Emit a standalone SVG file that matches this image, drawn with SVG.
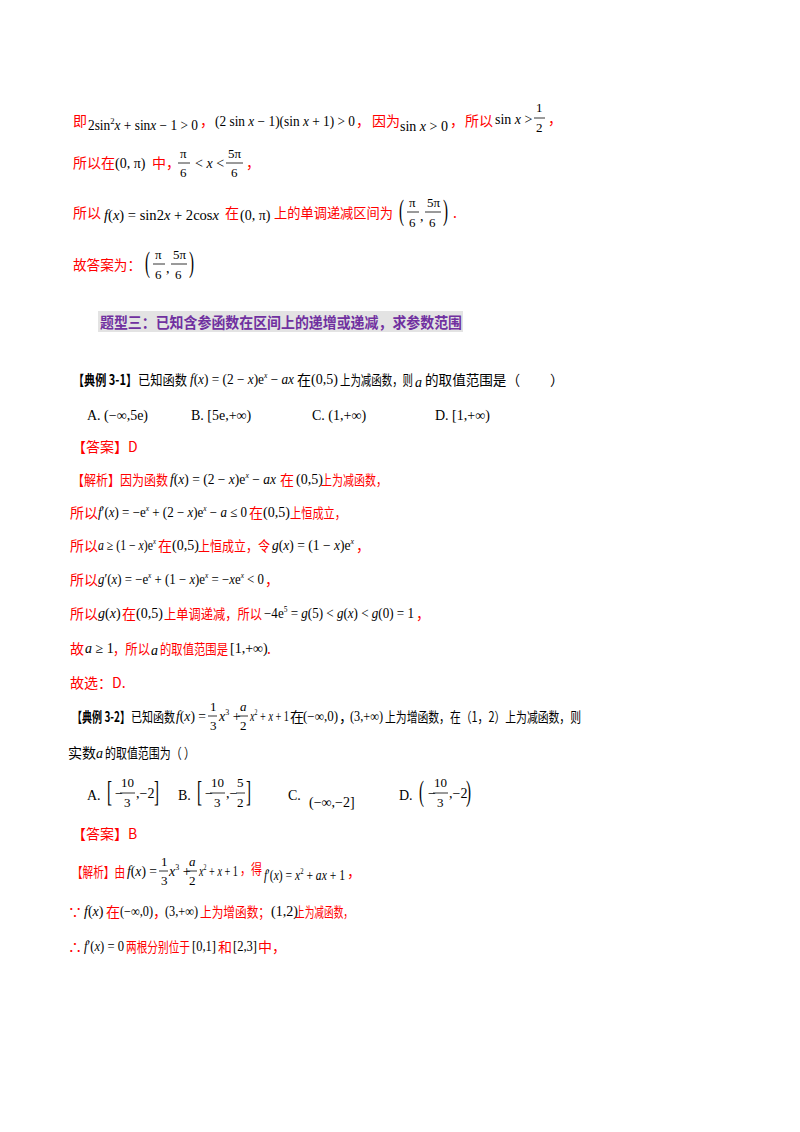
<svg xmlns="http://www.w3.org/2000/svg" width="800" height="1132" viewBox="0 0 800 1132">
<style>
text{font-family:"Liberation Serif","Noto Sans CJK SC",serif;font-size:14px;fill:#000}
.r{fill:#ff0000;font-family:"Noto Sans CJK SC",sans-serif}
.k{font-family:"Noto Sans CJK SC",sans-serif}
.b{font-weight:bold}
.i{font-style:italic}
.m{font-family:"Liberation Serif",serif}
.f{font-size:13px}
.p{font-family:"Liberation Serif",serif;font-size:15px}
line{stroke:#000;stroke-width:0.8}
.h{font-family:"Noto Sans CJK SC",sans-serif;font-weight:bold;font-size:15px;fill:#7030a0}
</style>
<rect width="800" height="1132" fill="#fff"/>
<g id="part1">
<text x="73" y="126" class="r">即</text>
<text x="88" y="130" class="m" textLength="110" lengthAdjust="spacingAndGlyphs">2sin<tspan font-size="9" dy="-6">2</tspan><tspan dy="6" class="i">x</tspan> + sin<tspan class="i">x</tspan> − 1 &gt; 0</text>
<text x="200" y="126" class="r">，</text>
<text x="215" y="126" class="m" textLength="140" lengthAdjust="spacingAndGlyphs">(2 sin <tspan class="i">x</tspan> − 1)(sin <tspan class="i">x</tspan> + 1) &gt; 0</text>
<text x="356" y="126" class="r">，</text>
<text x="372" y="126" class="r">因为</text>
<text x="400" y="131" class="m" textLength="48" lengthAdjust="spacingAndGlyphs">sin <tspan class="i">x</tspan> &gt; 0</text>
<text x="450" y="126" class="r">，</text>
<text x="465" y="126" class="r">所以</text>
<text x="495" y="124" class="m">sin <tspan class="i">x</tspan> &gt;</text>
<text x="536" y="112" class="m f">1</text><line x1="534" y1="118" x2="545" y2="118"/><text x="536" y="132" class="m f">2</text>
<text x="548" y="124" class="r">，</text>
<text x="73" y="168" class="r" textLength="42" lengthAdjust="spacingAndGlyphs">所以在</text>
<text x="115" y="168" class="m">(0, π)</text>
<text x="152" y="168" class="r">中，</text>
<text x="180" y="158" class="m f">π</text><line x1="178" y1="163" x2="190" y2="163"/><text x="180" y="177" class="m f">6</text>
<text x="195" y="168" class="m">&lt; <tspan class="i">x</tspan> &lt;</text>
<text x="228" y="158" class="m f">5π</text><line x1="226" y1="163" x2="243" y2="163"/><text x="231" y="177" class="m f">6</text>
<text x="246" y="168" class="r">，</text>
<text x="73" y="218" class="r">所以</text>
<text x="104" y="220" class="m" textLength="115" lengthAdjust="spacingAndGlyphs"><tspan class="i">f</tspan>(<tspan class="i">x</tspan>) = sin2<tspan class="i">x</tspan> + 2cos<tspan class="i">x</tspan></text>
<text x="225" y="218" class="r">在</text>
<text x="240" y="220" class="m">(0, π)</text>
<text x="274" y="218" class="r" textLength="119" lengthAdjust="spacingAndGlyphs">上的单调递减区间为</text>
<text class="p" transform="translate(399,219.5) scale(1,1.9)">(</text>
<text x="409" y="207" class="m f">π</text><line x1="407" y1="212" x2="419" y2="212"/><text x="409" y="227" class="m f">6</text>
<text x="420" y="221" class="m">,</text>
<text x="427" y="207" class="m f">5π</text><line x1="425" y1="212" x2="441" y2="212"/><text x="429" y="227" class="m f">6</text>
<text class="p" transform="translate(443,219.5) scale(1,1.9)">)</text>
<text x="453" y="218" class="r">.</text>
<text x="73" y="270" class="r" textLength="68" lengthAdjust="spacingAndGlyphs">故答案为：</text>
<text class="p" transform="translate(145,271.5) scale(1,1.9)">(</text>
<text x="155" y="259" class="m f">π</text><line x1="153" y1="264" x2="165" y2="264"/><text x="155" y="279" class="m f">6</text>
<text x="166" y="273" class="m">,</text>
<text x="173" y="259" class="m f">5π</text><line x1="171" y1="264" x2="187" y2="264"/><text x="175" y="279" class="m f">6</text>
<text class="p" transform="translate(189,271.5) scale(1,1.9)">)</text>
</g>
<g id="heading">
<rect x="98" y="311" width="365" height="21" fill="#e3e3e3"/>
<text x="100" y="328" class="h" textLength="362" lengthAdjust="spacingAndGlyphs">题型三：已知含参函数在区间上的递增或递减，求参数范围</text>
</g>
<g id="ex31">
<text x="73" y="385" class="k b" textLength="64" lengthAdjust="spacingAndGlyphs">【典例 3-1】</text>
<text x="138" y="385" class="k" textLength="49" lengthAdjust="spacingAndGlyphs">已知函数</text>
<text x="190" y="384" class="m" textLength="104" lengthAdjust="spacingAndGlyphs"><tspan class="i">f</tspan>(<tspan class="i">x</tspan>) = (2 − <tspan class="i">x</tspan>)e<tspan font-size="8" dy="-6" class="i">x</tspan><tspan dy="6"> − </tspan><tspan class="i">ax</tspan></text>
<text x="297" y="385" class="k">在</text>
<text x="311" y="384" class="m">(0,5)</text>
<text x="340" y="385" class="k" textLength="73" lengthAdjust="spacingAndGlyphs">上为减函数，则</text>
<text x="415" y="387" class="m i">a</text>
<text x="425" y="385" class="k" textLength="95" lengthAdjust="spacingAndGlyphs">的取值范围是（</text>
<text x="550" y="385" class="k">）</text>
<text x="87" y="420" class="m">A.  (−∞,5e)</text>
<text x="191" y="420" class="m">B.  [5e,+∞)</text>
<text x="312" y="420" class="m">C.  (1,+∞)</text>
<text x="435" y="420" class="m">D.  [1,+∞)</text>
<text x="72" y="452" class="r">【答案】D</text>
<text x="72" y="485" class="r" textLength="96" lengthAdjust="spacingAndGlyphs">【解析】因为函数</text>
<text x="170" y="484" class="m" textLength="106" lengthAdjust="spacingAndGlyphs"><tspan class="i">f</tspan>(<tspan class="i">x</tspan>) = (2 − <tspan class="i">x</tspan>)e<tspan font-size="8" dy="-6" class="i">x</tspan><tspan dy="6"> − </tspan><tspan class="i">ax</tspan></text>
<text x="280" y="485" class="r">在</text>
<text x="296" y="484" class="m">(0,5)</text>
<text x="321" y="485" class="r" textLength="66" lengthAdjust="spacingAndGlyphs">上为减函数，</text>
<text x="70" y="518" class="r">所以</text>
<text x="98" y="517" class="m" textLength="149" lengthAdjust="spacingAndGlyphs"><tspan class="i">f</tspan>′(<tspan class="i">x</tspan>) = −e<tspan font-size="8" dy="-6" class="i">x</tspan><tspan dy="6"> + (2 − </tspan><tspan class="i">x</tspan>)e<tspan font-size="8" dy="-6" class="i">x</tspan><tspan dy="6"> − </tspan><tspan class="i">a</tspan> ≤ 0</text>
<text x="249" y="518" class="r">在</text>
<text x="263" y="517" class="m">(0,5)</text>
<text x="290" y="518" class="r" textLength="56" lengthAdjust="spacingAndGlyphs">上恒成立，</text>
<text x="70" y="551" class="r">所以</text>
<text x="98" y="550" class="m" textLength="58" lengthAdjust="spacingAndGlyphs"><tspan class="i">a</tspan> ≥ (1 − <tspan class="i">x</tspan>)e<tspan font-size="8" dy="-6" class="i">x</tspan></text>
<text x="158" y="551" class="r">在</text>
<text x="172" y="550" class="m">(0,5)</text>
<text x="198" y="551" class="r" textLength="72" lengthAdjust="spacingAndGlyphs">上恒成立，令</text>
<text x="272" y="550" class="m" textLength="82" lengthAdjust="spacingAndGlyphs"><tspan class="i">g</tspan>(<tspan class="i">x</tspan>) = (1 − <tspan class="i">x</tspan>)e<tspan font-size="8" dy="-6" class="i">x</tspan></text>
<text x="356" y="551" class="r">，</text>
<text x="70" y="585" class="r">所以</text>
<text x="98" y="584" class="m" textLength="166" lengthAdjust="spacingAndGlyphs"><tspan class="i">g</tspan>′(<tspan class="i">x</tspan>) = −e<tspan font-size="8" dy="-6" class="i">x</tspan><tspan dy="6"> + (1 − </tspan><tspan class="i">x</tspan>)e<tspan font-size="8" dy="-6" class="i">x</tspan><tspan dy="6"> = −</tspan><tspan class="i">x</tspan>e<tspan font-size="8" dy="-6" class="i">x</tspan><tspan dy="6"> &lt; 0</tspan></text>
<text x="265" y="585" class="r">，</text>
<text x="70" y="619" class="r">所以</text>
<text x="98" y="618" class="m"><tspan class="i">g</tspan>(<tspan class="i">x</tspan>)</text>
<text x="122" y="619" class="r">在</text>
<text x="136" y="618" class="m">(0,5)</text>
<text x="164" y="619" class="r" textLength="98" lengthAdjust="spacingAndGlyphs">上单调递减，所以</text>
<text x="264" y="618" class="m" textLength="150" lengthAdjust="spacingAndGlyphs">−4e<tspan font-size="8" dy="-6">5</tspan><tspan dy="6"> = </tspan><tspan class="i">g</tspan>(5) &lt; <tspan class="i">g</tspan>(<tspan class="i">x</tspan>) &lt; <tspan class="i">g</tspan>(0) = 1</text>
<text x="416" y="619" class="r">，</text>
<text x="70" y="654" class="r">故</text>
<text x="85" y="653" class="m"><tspan class="i">a</tspan> ≥ 1</text>
<text x="113" y="654" class="r" textLength="37" lengthAdjust="spacingAndGlyphs">，所以</text>
<text x="151" y="655" class="m i">a</text>
<text x="160" y="654" class="r" textLength="68" lengthAdjust="spacingAndGlyphs">的取值范围是</text>
<text x="230" y="653" class="m">[1,+∞)</text>
<text x="267" y="654" class="r">.</text>
<text x="70" y="688" class="r">故选：D.</text>
</g>
<g id="ex32">
<text x="72" y="722" class="k b" textLength="58" lengthAdjust="spacingAndGlyphs">【典例 3-2】</text>
<text x="131" y="722" class="k" textLength="44" lengthAdjust="spacingAndGlyphs">已知函数</text>
<text x="176" y="721" class="m" textLength="30" lengthAdjust="spacingAndGlyphs"><tspan class="i">f</tspan>(<tspan class="i">x</tspan>) =</text>
<text x="210" y="711" class="m f">1</text><line x1="208" y1="716" x2="217" y2="716"/><text x="210" y="730" class="m f">3</text>
<text x="219" y="721" class="m"><tspan class="i">x</tspan><tspan font-size="8" dy="-6">3</tspan><tspan dy="6"> +</tspan></text>
<text x="240" y="711" class="m f i">a</text><line x1="238" y1="716" x2="248" y2="716"/><text x="240" y="730" class="m f">2</text>
<text x="250" y="721" class="m" textLength="39" lengthAdjust="spacingAndGlyphs"><tspan class="i">x</tspan><tspan font-size="8" dy="-6">2</tspan><tspan dy="6"> + </tspan><tspan class="i">x</tspan> + 1</text>
<text x="290" y="722" class="k">在</text>
<text x="303" y="721" class="m" textLength="35" lengthAdjust="spacingAndGlyphs">(−∞,0)</text>
<text x="339" y="722" class="k">，</text>
<text x="350" y="721" class="m" textLength="33" lengthAdjust="spacingAndGlyphs">(3,+∞)</text>
<text x="385" y="722" class="k" textLength="196" lengthAdjust="spacingAndGlyphs">上为增函数，在（1，2）上为减函数，则</text>
<text x="68" y="758" class="k">实数</text>
<text x="96" y="758" class="m i">a</text>
<text x="105" y="758" class="k" textLength="90" lengthAdjust="spacingAndGlyphs">的取值范围为（   ）</text>
<text x="87" y="800" class="m">A.</text>
<text class="p" transform="translate(107,800.5) scale(1,1.9)">[</text>
<text x="115" y="798" class="m">−</text>
<text x="121" y="787" class="m f">10</text><line x1="120" y1="793" x2="135" y2="793"/><text x="124" y="807" class="m f">3</text>
<text x="136" y="798" class="m">,−2</text>
<text class="p" transform="translate(154,800.5) scale(1,1.9)">]</text>
<text x="178" y="800" class="m">B.</text>
<text class="p" transform="translate(197,800.5) scale(1,1.9)">[</text>
<text x="205" y="798" class="m">−</text>
<text x="211" y="787" class="m f">10</text><line x1="210" y1="793" x2="225" y2="793"/><text x="214" y="807" class="m f">3</text>
<text x="226" y="798" class="m">,−</text>
<text x="237" y="787" class="m f">5</text><line x1="236" y1="793" x2="245" y2="793"/><text x="237" y="807" class="m f">2</text>
<text class="p" transform="translate(246,800.5) scale(1,1.9)">]</text>
<text x="288" y="800" class="m">C.</text>
<text x="309" y="807" class="m">(−∞,−2]</text>
<text x="399" y="800" class="m">D.</text>
<text class="p" transform="translate(419,800.5) scale(1,1.9)">(</text>
<text x="428" y="798" class="m">−</text>
<text x="434" y="787" class="m f">10</text><line x1="433" y1="793" x2="448" y2="793"/><text x="437" y="807" class="m f">3</text>
<text x="449" y="798" class="m">,−2</text>
<text class="p" transform="translate(466,800.5) scale(1,1.9)">)</text>
<text x="72" y="839" class="r">【答案】B</text>
<text x="72" y="877" class="r" textLength="53" lengthAdjust="spacingAndGlyphs">【解析】由</text>
<text x="127" y="876" class="m" textLength="30" lengthAdjust="spacingAndGlyphs"><tspan class="i">f</tspan>(<tspan class="i">x</tspan>) =</text>
<text x="161" y="866" class="m f">1</text><line x1="159" y1="871" x2="168" y2="871"/><text x="161" y="885" class="m f">3</text>
<text x="169" y="876" class="m"><tspan class="i">x</tspan><tspan font-size="8" dy="-6">3</tspan><tspan dy="6"> +</tspan></text>
<text x="189" y="866" class="m f i">a</text><line x1="187" y1="871" x2="197" y2="871"/><text x="189" y="885" class="m f">2</text>
<text x="199" y="876" class="m" textLength="39" lengthAdjust="spacingAndGlyphs"><tspan class="i">x</tspan><tspan font-size="8" dy="-6">2</tspan><tspan dy="6"> + </tspan><tspan class="i">x</tspan> + 1</text>
<text x="240" y="874" class="r" textLength="22" lengthAdjust="spacingAndGlyphs">，得</text>
<text x="264" y="880" class="m" textLength="81" lengthAdjust="spacingAndGlyphs"><tspan class="i">f</tspan>′(<tspan class="i">x</tspan>) = <tspan class="i">x</tspan><tspan font-size="8" dy="-6">2</tspan><tspan dy="6"> + </tspan><tspan class="i">ax</tspan> + 1</text>
<text x="347" y="877" class="r">，</text>
<text x="68" y="917" class="r">∵</text>
<text x="84" y="916" class="m"><tspan class="i">f</tspan>(<tspan class="i">x</tspan>)</text>
<text x="106" y="917" class="r">在</text>
<text x="120" y="916" class="m" textLength="33" lengthAdjust="spacingAndGlyphs">(−∞,0)</text>
<text x="153" y="917" class="r">，</text>
<text x="165" y="916" class="m" textLength="33" lengthAdjust="spacingAndGlyphs">(3,+∞)</text>
<text x="200" y="917" class="r" textLength="70" lengthAdjust="spacingAndGlyphs">上为增函数；</text>
<text x="271" y="916" class="m">(1,2)</text>
<text x="295" y="917" class="r" textLength="58" lengthAdjust="spacingAndGlyphs">上为减函数，</text>
<text x="68" y="952" class="r">∴</text>
<text x="84" y="951" class="m" textLength="40" lengthAdjust="spacingAndGlyphs"><tspan class="i">f</tspan>′(<tspan class="i">x</tspan>) = 0</text>
<text x="126" y="952" class="r" textLength="64" lengthAdjust="spacingAndGlyphs">两根分别位于</text>
<text x="192" y="951" class="m" textLength="24" lengthAdjust="spacingAndGlyphs">[0,1]</text>
<text x="218" y="952" class="r">和</text>
<text x="233" y="951" class="m" textLength="24" lengthAdjust="spacingAndGlyphs">[2,3]</text>
<text x="258" y="952" class="r">中，</text>
</g>
</svg>
